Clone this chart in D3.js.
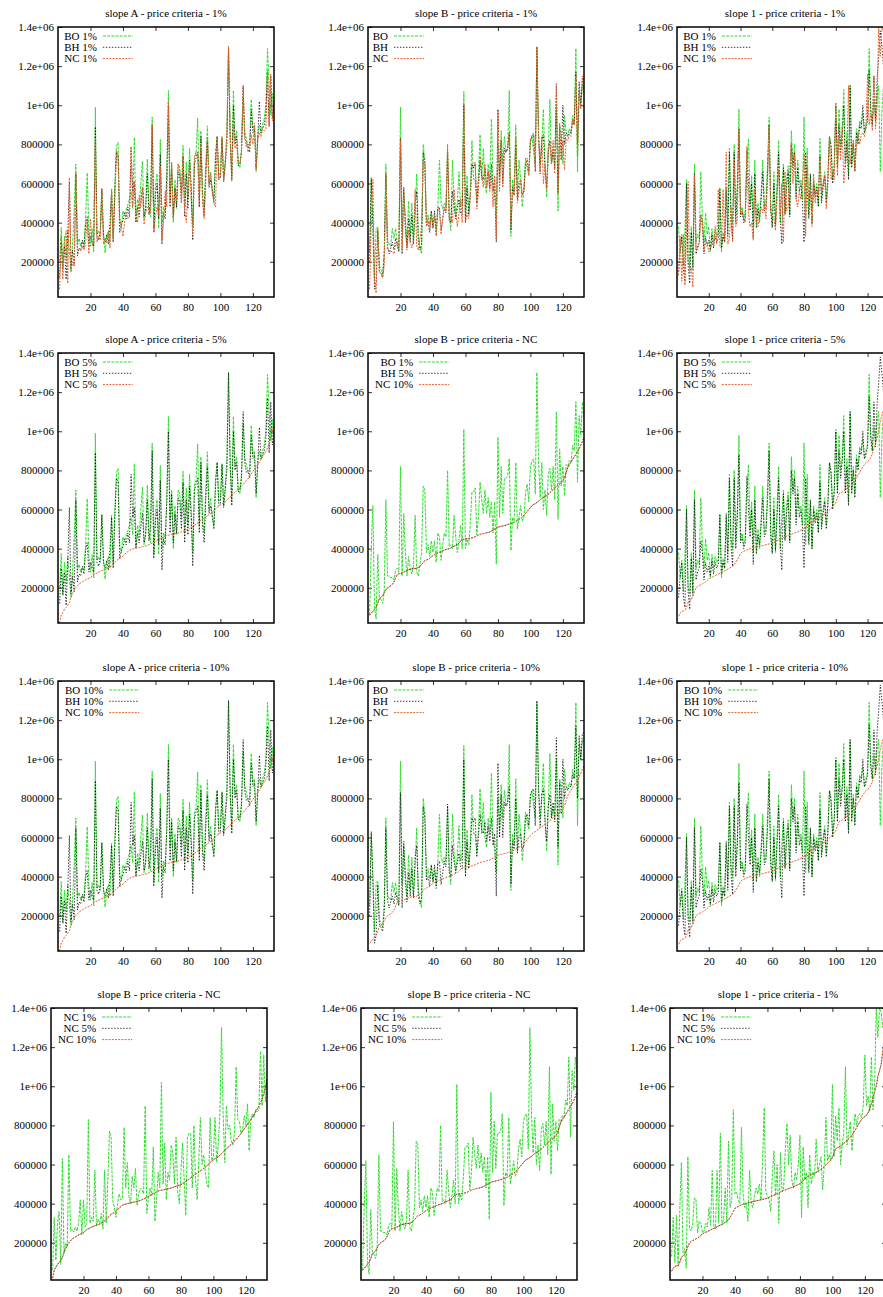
<!DOCTYPE html>
<html>
<head>
<meta charset="utf-8">
<script src="https://cdn.jsdelivr.net/npm/d3@7"></script>
<style>
    body { margin: 0; background: #fff; }
    svg text { font-family: "Liberation Serif", "Times New Roman", serif; font-size: 11px; fill: #000; }
</style>
</head>
<body>
<svg id="chart" width="883" height="1297"></svg>
<script>
/* Data (values in thousands, x = 1, 2, 3 ...) */
/* ****************************************** */

// slope A
var boA = [200,375,170,330,220,360,260,150,290,470, 700,290,320,280,305,290,420,655,360,280,
    370,250,990,340,360,330,570,350,245,330, 360,300,570,320,600,790,810,420,380,460,
    440,470,490,520,560,470,835,410,520,470, 600,715,420,480,725,480,430,940,370,590,
    650,370,825,400,480,450,660,1075,550,700, 400,620,470,700,680,560,795,480,710,520,
    780,600,380,730,750,935,520,870,550,480, 700,895,600,660,560,520,760,840,640,650,
    835,620,720,860,1300,850,640,1075,820,870, 700,680,780,1040,860,830,790,800,1030,880,
    900,660,850,900,860,900,930,1000,1290,1100, 950,1060,980];
var bhA = [120,300,160,280,110,330,610,170,260,180, 650,230,270,260,310,270,390,430,280,330,
    300,280,890,330,310,350,575,330,300,340, 290,400,560,300,560,760,740,350,390,410,
    450,420,480,430,780,560,610,400,480,430, 510,580,430,470,650,440,520,900,350,540,
    600,420,750,290,450,420,640,1000,480,680, 430,580,480,660,640,500,740,430,650,470,
    720,560,310,700,730,760,480,840,520,430, 650,820,580,620,570,500,720,840,620,630,
    830,610,700,800,1300,830,620,1000,800,840, 690,700,760,1100,840,790,800,760,980,860,
    880,680,830,1020,860,880,900,960,1170,890, 1150,930,1000];
var ncA = [60,330,110,300,360,90,630,150,200,180, 650,260,270,255,280,260,300,420,240,420,
    280,300,830,300,330,310,570,290,320,300, 350,270,570,300,520,770,740,420,380,330,
    400,450,420,430,790,480,610,440,400,540, 480,580,390,450,480,470,450,900,350,430,
    480,440,690,310,420,560,480,1020,500,710, 420,560,520,700,660,500,740,460,400,560,
    710,520,340,740,760,760,480,800,520,420, 620,840,600,650,560,500,480,840,620,640,
    840,610,700,860,1300,860,610,900,780,800, 720,700,760,1100,830,820,760,780,850,800,
    910,670,820,860,840,880,870,880,1180,900, 1160,920,1040];
var sortA = [20,60,75,90,100,110,125,150,170,190, 200,210,220,225,230,235,240,245,248,252,
    260,268,272,276,280,284,287,290,293,296, 300,305,312,320,330,338,345,350,356,362,
    370,378,385,392,396,398,400,402,404,406, 408,410,412,414,416,420,424,428,432,436,
    442,448,452,456,460,464,467,469,470,472, 474,476,478,480,483,486,489,492,495,498,
    502,508,514,520,526,532,538,544,550,556, 562,568,574,580,586,594,602,610,618,624,
    630,634,640,648,656,664,672,680,688,696, 704,712,720,728,738,748,758,770,782,794,
    806,818,830,842,856,870,884,898,915,935, 960,995,1035];

// slope B
var boB = [250,620,420,120,370,380,180,160,140,260, 700,310,290,280,370,320,370,300,260,990,
    360,560,420,300,510,330,500,300,450,650, 330,280,240,800,720,400,440,390,460,380,
    430,360,480,720,500,470,500,480,760,450, 360,720,520,430,500,660,480,520,1070,430,
    640,460,560,820,620,620,520,640,850,620, 780,600,550,700,620,930,600,540,420,800,
    640,870,700,840,760,780,1075,330,620,560, 900,540,720,620,480,580,730,680,640,810,
    840,760,700,1290,860,700,800,980,700,530, 760,1030,700,760,700,1000,460,900,850,700,
    950,860,850,880,860,950,900,1290,660,1080, 1000,1100,1090];
var bhB = [200,630,380,60,100,360,150,140,120,220, 650,280,240,270,300,260,320,280,250,830,
    240,580,380,270,420,300,440,290,500,560, 300,260,290,760,700,380,400,350,460,370,
    460,340,470,480,360,420,480,450,770,420, 400,560,480,420,470,520,450,440,1000,400,
    580,440,540,700,680,700,500,600,720,640, 620,680,580,660,580,700,560,620,300,980,
    600,820,600,780,760,780,860,360,580,540, 800,520,600,620,540,560,700,720,660,820,
    840,850,660,1300,850,650,820,850,680,580, 760,820,700,780,680,1110,550,880,720,1000,
    800,860,840,860,860,920,900,1170,800,1120, 1000,1130,1140];
var ncB = [60,400,620,100,40,370,150,140,120,180, 650,260,260,250,255,240,290,300,280,820,
    260,580,380,260,360,300,270,310,570,280, 260,320,380,720,700,380,420,360,440,380,
    440,330,480,460,340,420,480,460,800,410, 420,400,570,460,380,440,520,400,1010,400,
    450,420,530,690,690,710,470,560,740,650, 580,700,580,660,560,640,480,640,320,970,
    560,820,580,760,760,770,860,390,560,540, 840,500,560,620,540,560,680,730,640,820,
    850,860,680,1300,850,660,840,600,700,570, 780,810,700,820,650,1100,550,910,720,820,
    670,830,820,850,840,930,900,1150,740,1080, 980,1150,1060];
var sortB = [60,70,80,90,100,120,145,150,160,175, 190,200,205,210,218,230,250,268,272,274,
    276,280,284,288,292,295,297,298,299,300, 304,310,318,330,338,342,346,350,358,365,
    370,374,378,382,385,388,392,396,398,400, 404,408,412,416,420,428,438,445,448,450,
    451,452,453,455,457,461,465,469,472,475, 477,479,481,483,485,490,495,500,505,510,
    512,514,516,518,520,523,526,529,532,535, 540,545,550,556,562,570,580,590,600,610,
    620,626,630,636,642,650,656,661,666,671, 678,686,694,702,710,718,724,730,740,750,
    760,790,815,830,842,856,870,882,896,910, 928,948,970];

// slope 1
var bo1 = [380,250,340,180,360,620,200,170,380,180, 700,300,340,320,660,420,300,450,340,380,
    250,370,300,360,330,350,580,250,350,300, 560,380,780,450,400,800,440,600,980,450,
    480,420,460,700,830,500,640,380,720,370, 500,400,560,720,480,500,700,940,500,370,
    660,380,600,820,400,560,700,450,620,690, 440,870,700,800,560,720,600,620,520,940,
    420,780,440,640,400,620,550,600,490,830, 520,600,660,520,640,840,800,620,700,1010,
    700,980,800,860,1080,700,860,640,1100,700, 820,680,880,820,920,900,960,860,900,940,
    1290,980,900,1020,940,1050,1100,660,960,1100, 1000,1080,1050,1120,1100];
var bh1 = [150,260,330,160,100,600,180,90,350,160, 650,240,280,300,440,380,240,330,280,310,
    260,340,270,330,300,320,570,270,330,300, 580,330,760,420,310,760,400,560,880,430,
    460,400,430,770,600,460,600,320,650,380, 470,420,520,660,460,480,640,900,460,380,
    600,390,560,760,420,290,680,440,580,660, 430,800,680,760,520,680,560,600,500,300,
    760,560,420,650,400,600,530,580,480,740, 500,580,640,500,620,840,780,600,680,1000,
    680,900,760,840,1000,680,820,620,1100,680, 800,660,860,800,900,880,1000,860,880,920,
    1180,960,900,1150,920,1140,1250,1380,1300,1200, 1150,1200,1250,1300,1350];
var nc1 = [130,330,100,340,80,360,610,150,170,70, 640,270,260,300,430,420,250,310,300,250,
    260,300,280,380,290,570,280,270,570,300, 760,290,320,480,300,720,380,420,880,450,
    460,420,400,790,450,380,400,310,570,400, 380,440,480,450,500,420,620,890,460,440,
    420,360,540,670,440,600,300,660,460,480, 670,810,600,750,520,480,560,520,600,750,
    330,690,520,560,380,650,500,560,540,730, 560,600,640,470,600,840,620,650,620,1010,
    640,850,720,890,600,700,760,1100,700,760, 820,670,780,860,800,850,860,840,900,1160,
    900,950,870,1150,880,1000,1400,1250,1400,1380, 1300,1400,1350,1380,1400];
var sort1 = [55,70,80,82,85,100,125,135,140,160, 180,200,208,212,215,220,225,230,238,245,
    250,254,258,262,266,270,274,278,282,286, 290,295,300,305,310,318,330,345,360,375,
    382,386,390,394,397,400,402,404,406,408, 410,412,414,416,418,420,422,424,426,428,
    432,436,440,444,448,452,456,460,464,468, 471,474,477,480,483,486,490,494,498,502,
    510,518,526,534,540,544,548,552,556,560, 565,570,575,582,590,598,606,614,622,635,
    660,680,686,690,694,700,708,716,724,732, 740,750,762,776,790,805,818,830,840,846,
    852,866,885,910,940,970,1000,1050,1080,1110, 1180,1240,1280,1320,1360];

// axes
var yTicks = [200, 400, 600, 800, 1000, 1200, 1400];
var yTickLabels = ['200000', '400000', '600000', '800000', '1e+06', '1.2e+06', '1.4e+06'];
var xTicks = [20, 40, 60, 80, 100, 120];

// panel titles, legend keys and plotted series, row by row
var titles = [
    'slope A - price criteria - 1%', 'slope B - price criteria - 1%', 'slope 1 - price criteria - 1%',
    'slope A - price criteria - 5%', 'slope B - price criteria - NC', 'slope 1 - price criteria - 5%',
    'slope A - price criteria - 10%', 'slope B - price criteria - 10%', 'slope 1 - price criteria - 10%',
    'slope B - price criteria - NC', 'slope B - price criteria - NC', 'slope 1 - price criteria - 1%'
];
var keys = [
    ['BO 1%', 'BH 1%', 'NC 1%'], ['BO', 'BH', 'NC'], ['BO 1%', 'BH 1%', 'NC 1%'],
    ['BO 5%', 'BH 5%', 'NC 5%'], ['BO 1%', 'BH 5%', 'NC 10%'], ['BO 5%', 'BH 5%', 'NC 5%'],
    ['BO 10%', 'BH 10%', 'NC 10%'], ['BO', 'BH', 'NC'], ['BO 10%', 'BH 10%', 'NC 10%'],
    ['NC 1%', 'NC 5%', 'NC 10%'], ['NC 1%', 'NC 5%', 'NC 10%'], ['NC 1%', 'NC 5%', 'NC 10%']
];
var series = [
    [boA, bhA, ncA], [boB, bhB, ncB], [bo1, bh1, nc1],
    [boA, bhA, sortA], [ncB, sortB, sortB], [bo1, bh1, sort1],
    [boA, bhA, sortA], [boB, bhB, sortB], [bo1, bh1, sort1],
    [ncA, sortA, sortA], [ncB, sortB, sortB], [nc1, sort1, sort1]
];

/* Drawing */
/* ******* */
var svg = d3.select('#chart');
svg.append('rect').attr('width', 883).attr('height', 1297).attr('fill', '#fff');

var colLeft = [58, 368, 677];
var rowTop = [27, 353, 681, 1008];
var plotW = 216;

var styles = [
    { color: '#2fdc2f', dash: '3,1.2', width: 1 },
    { color: '#000000', dash: '1.4,1.6', width: 0.8 },
    { color: '#e8612c', dash: '2,1.2', width: 1 }
];

/** Draws one gnuplot-like panel.
 *
 * @param idx   Panel index (row major).
 */
var drawPanel = function(idx) {
    var row = Math.floor(idx / 3), col = idx % 3;
    var lastRow = row === 3;
    var left = colLeft[col] - (lastRow ? 7 : 0);
    var top = rowTop[row];
    var h = lastRow ? 272 : 270;
    // the slope 1 column has a slightly longer x range in the first three rows
    var xMax = (col === 2 && !lastRow) ? 136 : 133;

    var x = d3.scaleLinear().domain([0, xMax]).range([0, plotW]);
    var y = d3.scaleLinear().domain([lastRow ? 10 : 20, 1400]).range([h, 0]);

    var g = svg.append('g').attr('transform', 'translate(' + left + ',' + top + ')');

    g.append('clipPath')
        .attr('id', 'clip' + idx)
        .append('rect')
        .attr('width', plotW)
        .attr('height', h);

    // title
    g.append('text')
        .attr('x', plotW / 2)
        .attr('y', -10)
        .attr('text-anchor', 'middle')
        .text(titles[idx]);

    // axes
    var yAxis = d3.axisLeft(y)
        .tickValues(yTicks)
        .tickFormat(function(d, i) { return yTickLabels[i]; })
        .tickSize(-4)
        .tickPadding(4);
    var ya = g.append('g').call(yAxis);
    ya.select('.domain').remove();

    var yr = g.append('g').attr('transform', 'translate(' + plotW + ',0)')
        .call(d3.axisRight(y).tickValues(yTicks).tickFormat('').tickSize(-4));
    yr.select('.domain').remove();

    var xAxis = d3.axisBottom(x)
        .tickValues(xTicks)
        .tickSize(-4)
        .tickPadding(6);
    var xa = g.append('g').attr('transform', 'translate(0,' + h + ')').call(xAxis);
    xa.select('.domain').remove();

    var xt = g.append('g').call(d3.axisTop(x).tickValues(xTicks).tickFormat('').tickSize(-4));
    xt.select('.domain').remove();

    g.selectAll('.tick text').style('font-family', '"Liberation Serif", serif').style('font-size', '11px');
    g.selectAll('.tick line').attr('stroke', '#000').attr('stroke-width', 0.8);

    // series
    var line = d3.line()
        .x(function(d, i) { return x(i + 1); })
        .y(function(d) { return y(d); });

    var lines = g.append('g').attr('clip-path', 'url(#clip' + idx + ')');
    series[idx].forEach(function(s, k) {
        lines.append('path')
            .attr('d', line(s))
            .attr('fill', 'none')
            .attr('stroke', styles[k].color)
            .attr('stroke-width', styles[k].width)
            .attr('stroke-dasharray', styles[k].dash);
    });

    // legend
    var maxLen = d3.max(keys[idx], function(k) { return k.length; });
    var textEnd = 7.4 + 6.3 * maxLen;
    keys[idx].forEach(function(k, i) {
        var ly = 9 + i * 11.3;
        g.append('text')
            .attr('x', textEnd)
            .attr('y', ly)
            .attr('dy', '0.35em')
            .attr('text-anchor', 'end')
            .text(k);
        g.append('line')
            .attr('x1', textEnd + 6)
            .attr('x2', textEnd + 36)
            .attr('y1', ly)
            .attr('y2', ly)
            .attr('stroke', styles[i].color)
            .attr('stroke-width', styles[i].width)
            .attr('stroke-dasharray', styles[i].dash);
    });

    // border
    g.append('rect')
        .attr('width', plotW)
        .attr('height', h)
        .attr('fill', 'none')
        .attr('stroke', '#000')
        .attr('stroke-width', 1.5);
};

for (var i = 0; i < 12; i++) {
    drawPanel(i);
}
</script>
</body>
</html>
